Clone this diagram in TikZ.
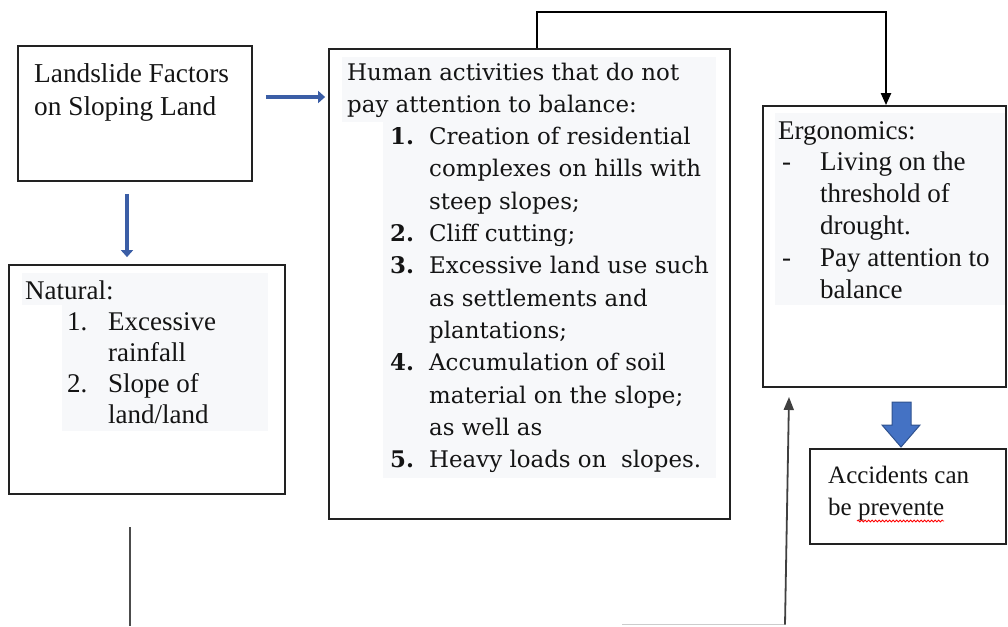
\documentclass[tikz,border=0pt]{standalone}
\usepackage{fontspec}
\setmainfont{Liberation Serif}
\newfontfamily\humfont{DejaVu Serif}
\usetikzlibrary{arrows.meta,decorations.pathmorphing,calc}
\definecolor{shadebg}{HTML}{F7F8FA}
\definecolor{wblue}{HTML}{4472C4}
\definecolor{wblueD}{HTML}{2F528F}
\definecolor{arrblue}{HTML}{3B5EA6}
\definecolor{boxline}{HTML}{222222}
\begin{document}
\begin{tikzpicture}[x=1pt,y=-1pt,
  box/.style={draw=boxline, line width=1.8pt, inner sep=0, minimum width=#1},
  shadebox/.style={fill=shadebg, draw=none},
  txt/.style={inner sep=0, anchor=base west, text=black!92},
  barrow/.style={draw=arrblue, line width=4.8pt, -{Triangle[width=12pt,length=7pt]}},
  blk/.style={draw=black, line width=2.2pt, -{Triangle[width=10pt,length=12pt]}},
]
\useasboundingbox (0,0) rectangle (1008,626);

% shading behind texts
\fill[shadebox] (22,273) rectangle (268,305);
\fill[shadebox] (62,305) rectangle (268,431);
\fill[shadebox] (342,57) rectangle (716,122);
\fill[shadebox] (383,122) rectangle (716,478);
\fill[shadebox] (775,113) rectangle (1005,305);

% boxes
\node[box=234pt, minimum height=135pt] (land) at (135,113.5) {};
\node[box=276pt, minimum height=229pt] (nat) at (147,379.5) {};
\node[box=401pt, minimum height=470pt] (hum) at (529.5,284) {};
\node[box=243pt, minimum height=281pt] (erg) at (884.5,246.5) {};
\node[box=196pt, minimum height=95pt] (acc) at (908,496.5) {};

% texts
\node[txt] (landt) at (34,82) {\fontsize{27.3}{33.5}\selectfont
  \begin{tabular}[t]{@{}l@{}}Landslide Factors\\ on Sloping Land\end{tabular}};

\node[txt] (natt) at (25,299) {\fontsize{27}{31.2}\selectfont
  \begin{tabular}[t]{@{}p{42pt}@{}p{41pt}@{}l@{}}
  \multicolumn{3}{@{}l@{}}{Natural:}\\
  & 1. & Excessive\\
  & & rainfall\\
  & 2. & Slope of\\
  & & land/land
  \end{tabular}};

\node[txt] (humt) at (347,80) {\humfont\fontsize{22.9}{32.3}\selectfont
  \begin{tabular}[t]{@{}p{43pt}@{}p{39pt}@{}l@{}}
  \multicolumn{3}{@{}l@{}}{Human activities that do not}\\
  \multicolumn{3}{@{}l@{}}{pay attention to balance:}\\
  & \textbf{1.} & Creation of residential\\
  & & complexes on hills with\\
  & & steep slopes;\\
  & \textbf{2.} & Cliff cutting;\\
  & \textbf{3.} & Excessive land use such\\
  & & as settlements and\\
  & & plantations;\\
  & \textbf{4.} & Accumulation of soil\\
  & & material on the slope;\\
  & & as well as\\
  & \textbf{5.} & Heavy loads on\ \ slopes.
  \end{tabular}};

\node[txt] (ergt) at (778,139) {\fontsize{27}{31.8}\selectfont
  \begin{tabular}[t]{@{}p{4pt}@{}p{38pt}@{}l@{}}
  \multicolumn{3}{@{}l@{}}{Ergonomics:}\\
  & - & Living on the\\
  & & threshold of\\
  & & drought.\\
  & - & Pay attention to\\
  & & balance
  \end{tabular}};

\node[txt] (acct) at (828,483) {\fontsize{25}{32}\selectfont
  \begin{tabular}[t]{@{}l@{}}Accidents can\\ be prevente\end{tabular}};
\draw[red, line width=0.8pt, decorate, decoration={snake, amplitude=1pt, segment length=3.5pt}]
  (857,521) -- (944,521);

% blue arrows
\coordinate (ya) at (0,97);
\coordinate (xd) at (127,0);
\draw[barrow] ($(land.east |- ya)+(13,0)$) -- ($(hum.west |- ya)+(-3,0)$);
\draw[barrow] ($(land.south -| xd)+(0,12)$) -- ($(nat.north -| xd)+(0,-7)$);

% block arrow
\draw[fill=wblue, draw=wblueD, line width=1pt]
  (892,402) -- (911,402) -- (911,425) -- (920,425) -- (901,447) -- (882,425) -- (892,425) -- cycle;

% black connector
\coordinate (t1) at (537,12);
\coordinate (t2) at (886,12);
\draw[blk] (hum.north -| t1) -- (t1) -- (t2) -- (erg.north -| t2);

% bottom lines
\coordinate (s1) at (130,527);
\coordinate (s2) at (130,626);
\draw[draw=black!70, line width=2pt] (s1) -- (s2);
\coordinate (r1) at (622,624.5);
\coordinate (r2) at (785,624.5);
\coordinate (r3) at (789,397);
\draw[draw=black!20, line width=1.5pt] (r1) -- (r2);
\draw[draw=black!75, line width=1.8pt, -{Triangle[width=10pt,length=13pt]}] (r2) -- (r3);
\end{tikzpicture}
\end{document}
